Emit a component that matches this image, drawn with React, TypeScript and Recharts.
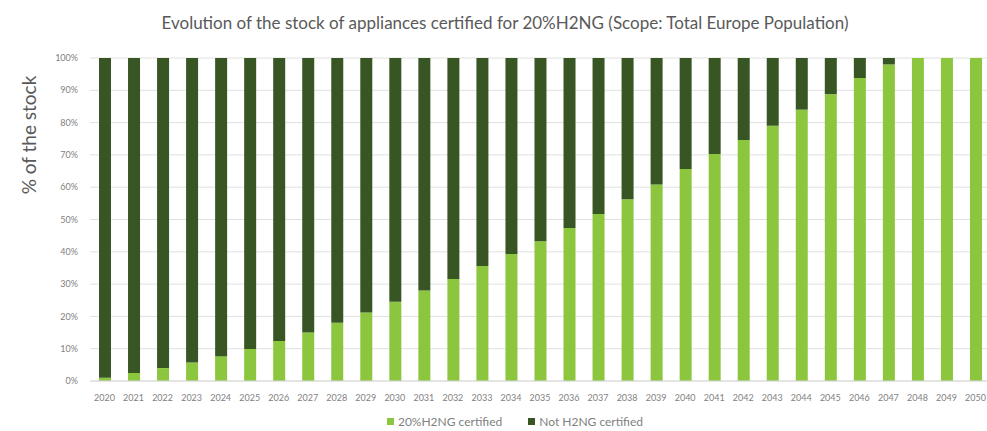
import React from 'react';
import { BarChart, Bar, XAxis, YAxis, CartesianGrid, Legend } from 'recharts';

const years = [2020,2021,2022,2023,2024,2025,2026,2027,2028,2029,2030,2031,2032,2033,2034,2035,2036,2037,2038,2039,2040,2041,2042,2043,2044,2045,2046,2047,2048,2049,2050];
const certified = [1,2.5,4,5.7,7.7,9.9,12.4,15,18,21.2,24.5,28,31.6,35.6,39.3,43.3,47.4,51.7,56.3,60.8,65.6,70.3,74.6,79,84,88.8,93.8,98,100,100,100];
const yTicks = [0,10,20,30,40,50,60,70,80,90,100];

const data = years.map((y, i) => ({
  year: String(y),
  cert: certified[i] / 100,
  notCert: (100 - certified[i]) / 100,
}));

const FONT = 'Lato, "Open Sans", sans-serif';

const renderLegend = (props: any) => {
  const { payload } = props;
  return (
    <div style={{ display: 'flex', justifyContent: 'center', gap: 26, paddingLeft: 40 }}>
      {payload.map((p: any) => (
        <div key={p.value} style={{ display: 'flex', alignItems: 'center', fontSize: 12, color: '#7f7f7f', fontFamily: FONT }}>
          <span style={{ display: 'inline-block', width: 7, height: 7, background: p.color, marginRight: 4 }} />
          {p.value}
        </div>
      ))}
    </div>
  );
};

export default function App() {
  return (
    <div style={{ position: 'absolute', left: 0, top: 0, width: 987, height: 431, overflow: 'hidden', background: '#fff', fontFamily: FONT }}>
      <div style={{ position: 'absolute', left: 0, top: 12, width: 1010, textAlign: 'center', fontSize: 17, color: '#595959' }}>
        Evolution of the stock of appliances certified for 20%H2NG (Scope: Total Europe Population)
      </div>
      <div style={{ position: 'absolute', left: 28, top: 135, transform: 'translate(-50%, -50%) rotate(-90deg)', whiteSpace: 'nowrap', fontSize: 19, color: '#595959' }}>
        % of the stock
      </div>
      <div style={{ position: 'absolute', left: 0, top: 0 }}>
        <BarChart width={990} height={431} data={data} margin={{ top: 58, right: 0, left: 0, bottom: 8 }} barSize={12}>
          <CartesianGrid vertical={false} stroke="#e0e0e0" />
          <XAxis dataKey="year" height={22} tickLine={false} tickMargin={8} axisLine={{ stroke: '#d9d9d9' }} tick={{ fontSize: 9, fill: '#7f7f7f', fontFamily: FONT }} interval={0} />
          <YAxis width={90} domain={[0, 1]} ticks={yTicks.map(t => t / 100)} tickFormatter={(v: number) => `${Math.round(v * 100)}%`} tickLine={false} axisLine={false} tickMargin={6} tick={{ fontSize: 9, fill: '#7f7f7f', fontFamily: FONT }} />
          <Legend verticalAlign="bottom" height={20} content={renderLegend} wrapperStyle={{ top: 414, left: 0, width: 990 }} />
          <Bar dataKey="cert" name="20%H2NG certified" stackId="a" fill="#8cc63f" isAnimationActive={false} />
          <Bar dataKey="notCert" name="Not H2NG certified" stackId="a" fill="#375623" isAnimationActive={false} />
        </BarChart>
      </div>
    </div>
  );
}
